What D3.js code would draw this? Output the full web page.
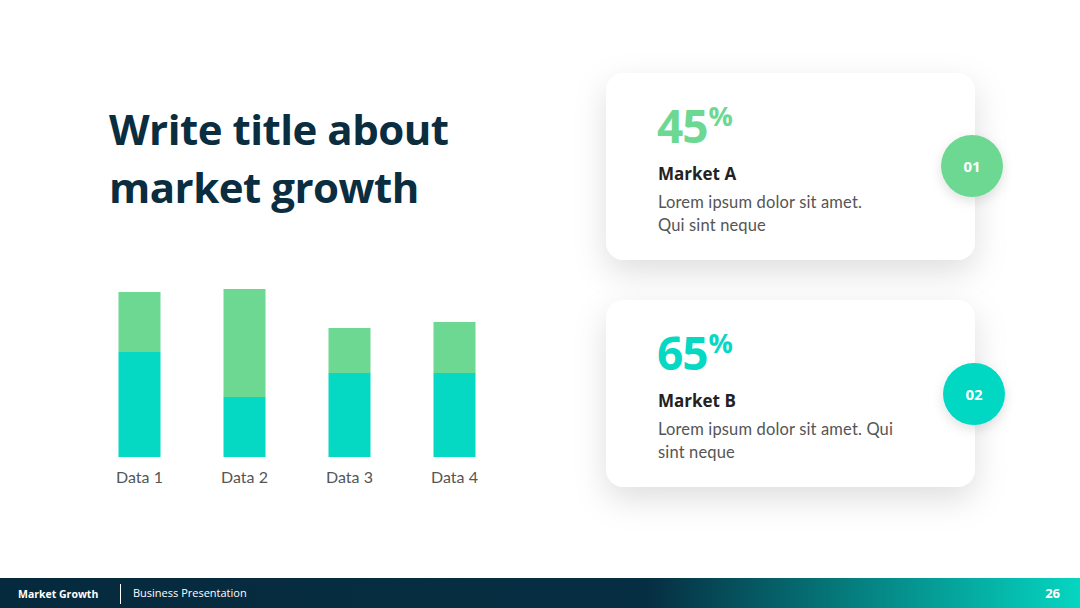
<!DOCTYPE html>
<html lang="en">
<head>
    <meta charset="UTF-8">
    <title>Market Growth</title>
    <script src="https://d3js.org/d3.v7.min.js"></script>
    <style>
        body { margin: 0; background: #fff; }
        svg { display: block; }
    </style>
</head>
<body>
    <svg></svg>

    <script>
        const w = 1080;
        const h = 608;

        // chart data
        const categories = ["Data 1", "Data 2", "Data 3", "Data 4"];
        const series1 = [3.5, 2.0, 2.8, 2.8];
        const series2 = [2.0, 3.6, 1.5, 1.7];
        const colors = ["#05D8C3", "#6DD891"];

        // cards
        const percents = ["45", "65"];
        const markets = ["Market A", "Market B"];
        const descLines = [
            ["Lorem ipsum dolor sit amet.", "Qui sint neque"],
            ["Lorem ipsum dolor sit amet. Qui", "sint neque"]
        ];
        const badges = ["01", "02"];

        const svg = d3.select("svg").attr("width", w).attr("height", h);

        const defs = svg.append("defs");
        const shadow = defs.append("filter").attr("id", "shadow")
            .attr("x", "-30%").attr("y", "-40%").attr("width", "160%").attr("height", "190%");
        shadow.append("feDropShadow")
            .attr("dx", 0).attr("dy", 12)
            .attr("stdDeviation", 16)
            .attr("flood-color", "#000")
            .attr("flood-opacity", 0.13);

        const badgeShadow = defs.append("filter").attr("id", "bshadow")
            .attr("x", "-60%").attr("y", "-60%").attr("width", "220%").attr("height", "220%");
        badgeShadow.append("feDropShadow")
            .attr("dx", 0).attr("dy", 4)
            .attr("stdDeviation", 6)
            .attr("flood-color", "#000")
            .attr("flood-opacity", 0.12);

        const grad = defs.append("linearGradient").attr("id", "footgrad")
            .attr("x1", "0%").attr("x2", "100%");
        grad.append("stop").attr("offset", "0%").attr("stop-color", "#062A3D");
        grad.append("stop").attr("offset", "60%").attr("stop-color", "#062E42");
        grad.append("stop").attr("offset", "100%").attr("stop-color", "#05D6C1");

        // title
        const title = svg.append("text")
            .attr("x", 109)
            .attr("fill", "#0B2D40")
            .attr("font-family", "'Open Sans', sans-serif")
            .attr("font-weight", 700)
            .attr("font-size", 42)
            .attr("letter-spacing", -0.5);
        title.append("tspan").attr("x", 109).attr("y", 145).text("Write title about");
        title.append("tspan").attr("x", 109).attr("y", 203).text("market growth");

        // stacked bars
        const x = d3.scaleBand()
            .domain(categories)
            .range([87, 507])
            .paddingInner(0.6)
            .paddingOuter(0.3);

        const y = d3.scaleLinear()
            .domain([0, 6])
            .range([457, 277]);

        const table = categories.map((c, i) => ({ cat: c, s1: series1[i], s2: series2[i] }));
        const stack = d3.stack().keys(["s1", "s2"])(table);

        svg.append("g").selectAll("g")
            .data(stack)
            .join("g")
                .attr("fill", (d, i) => colors[i])
            .selectAll("rect")
            .data(d => d)
            .join("rect")
                .attr("x", d => x(d.data.cat))
                .attr("y", d => y(d[1]))
                .attr("width", x.bandwidth())
                .attr("height", d => y(d[0]) - y(d[1]));

        svg.append("g").selectAll("text")
            .data(categories)
            .join("text")
                .attr("x", d => x(d) + x.bandwidth() / 2)
                .attr("y", 483)
                .attr("text-anchor", "middle")
                .attr("fill", "#555")
                .attr("font-family", "Lato, sans-serif")
                .attr("font-size", 16)
                .text(d => d);

        // cards
        const cardTop = [73, 300];
        const badgeCenter = [[972, 166], [974, 394]];
        const badgeColor = [colors[1], colors[0]];

        cardTop.forEach((top, i) => {
            const g = svg.append("g");
            g.append("rect")
                .attr("x", 606).attr("y", top)
                .attr("width", 369).attr("height", 187)
                .attr("rx", 18)
                .attr("fill", "#fff")
                .attr("filter", "url(#shadow)");

            const pct = g.append("text")
                .attr("x", 657).attr("y", top + 70)
                .attr("fill", badgeColor[i])
                .attr("font-family", "'Open Sans', sans-serif")
                .attr("font-weight", 700);
            pct.append("tspan").attr("font-size", 46).attr("letter-spacing", -1).text(percents[i]);
            pct.append("tspan").attr("font-size", 27).attr("dy", -17).attr("dx", 1).text("%");

            g.append("text")
                .attr("x", 658).attr("y", top + 107)
                .attr("fill", "#222")
                .attr("font-family", "'Open Sans', sans-serif")
                .attr("font-weight", 700)
                .attr("font-size", 17)
                .text(markets[i]);

            g.append("g").selectAll("text")
                .data(descLines[i])
                .join("text")
                    .attr("x", 658)
                    .attr("y", (d, j) => top + 135 + j * 23)
                    .attr("fill", "#555")
                    .attr("font-family", "Lato, sans-serif")
                    .attr("font-size", 16.5)
                    .attr("letter-spacing", 0.15)
                    .text(d => d);

            g.append("circle")
                .attr("cx", badgeCenter[i][0]).attr("cy", badgeCenter[i][1])
                .attr("r", 31)
                .attr("fill", badgeColor[i])
                .attr("filter", "url(#bshadow)");
            g.append("text")
                .attr("x", badgeCenter[i][0]).attr("y", badgeCenter[i][1] + 5.5)
                .attr("text-anchor", "middle")
                .attr("fill", "#fff")
                .attr("font-family", "'Open Sans', sans-serif")
                .attr("font-weight", 700)
                .attr("font-size", 15)
                .text(badges[i]);
        });

        // footer
        const foot = svg.append("g");
        foot.append("rect")
            .attr("x", 0).attr("y", 578)
            .attr("width", w).attr("height", 30)
            .attr("fill", "url(#footgrad)");
        foot.append("text")
            .attr("x", 18).attr("y", 598)
            .attr("fill", "#fff")
            .attr("font-family", "'Open Sans', sans-serif")
            .attr("font-weight", 700)
            .attr("font-size", 10.5)
            .text("Market Growth");
        foot.append("line")
            .attr("x1", 120.5).attr("x2", 120.5)
            .attr("y1", 584).attr("y2", 604)
            .attr("stroke", "#fff").attr("stroke-width", 1);
        foot.append("text")
            .attr("x", 133).attr("y", 597)
            .attr("fill", "#fff")
            .attr("font-family", "'Open Sans', sans-serif")
            .attr("font-size", 11)
            .text("Business Presentation");
        foot.append("text")
            .attr("x", 1060).attr("y", 598)
            .attr("text-anchor", "end")
            .attr("fill", "#fff")
            .attr("font-family", "'Open Sans', sans-serif")
            .attr("font-weight", 700)
            .attr("font-size", 13)
            .text("26");
    </script>
</body>
</html>
